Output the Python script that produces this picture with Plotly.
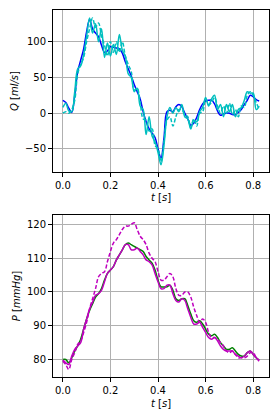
import plotly.graph_objects as go
from plotly.subplots import make_subplots

t = [0, .0125, .025, .0375, .05, .0625, .075, .0875, .1, .1125, .125, .1375, .15, .1625, .175, .1875,
     .2, .2125, .225, .2375, .25, .2625, .275, .2875, .3, .3125, .325, .3375, .35, .3625, .375, .3875,
     .4, .4125, .425, .4375, .45, .4625, .475, .4875, .5, .5125, .525, .5375, .55, .5625, .575, .5875,
     .6, .6125, .625, .6375, .65, .6625, .675, .6875, .7, .7125, .725, .7375, .75, .7625, .775, .7875,
     .8, .8125, .825]

q_ref = [18, 15, 7, 1, 25, 58, 74, 90, 114, 131, 118, 112, 107, 95, 85, 87,
         93, 92, 91, 90, 84, 72, 62, 52, 40, 30, 20, 2, -12, -22, -28, -34,
         -50, -63, -35, 2, 4, 2, 9, 12, 9, 0, -8, -17, -14, -6, 5, 13,
         17, 18, 18, 13, 3, -3, -1, 0, 0, -2, -2, 1, 5, 12, 18, 25,
         23, 19, 17]

q_a = [8, 14, 3, 2, 30, 62, 66, 82, 108, 133, 112, 125, 100, 118, 78, 98,
       80, 96, 82, 110, 88, 80, 55, 50, 30, 35, 10, 5, -30, -5, -32, -40,
       -55, -72, -45, -5, 8, 0, 8, 2, 12, -5, -8, -22, -10, -12, 2, 8,
       22, 10, 20, 25, 5, 12, -5, 12, 2, 12, -5, 5, 8, 18, 30, 28,
       28, 5, 10]

q_b = [0, 2, 0, 5, 18, 55, 68, 78, 100, 118, 133, 120, 126, 108, 95, 80,
       100, 85, 100, 85, 100, 80, 68, 58, 32, 35, 15, -8, -10, -25, -22, -45,
       -50, -68, -40, -10, -5, -18, -5, 5, 5, -2, -5, -20, -8, -18, 0, 2,
       20, 12, 15, 22, 10, 0, 10, 0, 14, -2, 5, -5, 10, 8, 25, 30,
       25, 15, 5]

p_ref = [80, 80, 79, 80.5, 82.5, 84, 86, 89, 92, 94.5, 96.5, 98.5, 99.5, 101, 103.5, 105.5,
         106.5, 107.5, 109.5, 111, 112.5, 114, 114.5, 114, 113.5, 113, 112.5, 112, 110.5, 109.5, 108.5, 106.5,
         103.5, 101.5, 101.5, 101.5, 102, 100.5, 98, 97.5, 98, 98, 96, 93.5, 91.5, 91, 91.5, 90.5,
         89, 87.5, 87, 87.5, 86.5, 85, 84, 83, 83, 83.5, 82.5, 81.5, 81, 81, 82, 82.5,
         81.5, 80.5, 79.8]

p_a = [79.8, 79, 78.5, 81, 83, 84, 85, 89, 92, 95, 97, 99, 99.5, 100.5, 103, 105.5,
       106.5, 107.5, 109.5, 111, 112.5, 114, 114, 112.5, 112.5, 113, 112, 111, 109.5, 109, 108, 105.5,
       103, 101, 101, 102, 102, 99.5, 97.5, 97, 98, 97.5, 95, 92.5, 90.5, 90.5, 91, 89.5,
       88, 86.5, 86, 86.5, 85.5, 84, 83, 82.5, 82.5, 82.5, 81.5, 81, 80.5, 81, 82, 82.5,
       81.5, 80.5, 79.8]

p_b = [79.5, 78.5, 77, 80, 82, 84.5, 85.5, 88, 91, 95, 98, 101, 104.5, 105.5, 106, 109,
       112, 114.5, 115.5, 117, 118.5, 119.5, 119.5, 120, 120.5, 118.5, 116.5, 115.5, 114, 111.5, 110, 109,
       106, 103.5, 103.5, 104.5, 105.5, 104.5, 101, 99, 99, 100, 100, 98.5, 95.5, 93, 91, 92,
       91, 88, 86.5, 86.5, 86, 85, 84, 82.5, 82, 82.5, 81.5, 80.5, 80.5, 80.5, 81, 82,
       82, 80.5, 79.5]

x_ticks = [0.0, 0.2, 0.4, 0.6, 0.8]
q_ticks = [-50, 0, 50, 100]
p_ticks = [80, 90, 100, 110, 120]

fig = make_subplots(rows=2, cols=1, vertical_spacing=0.1172)

lw = 1.5
fig.add_trace(go.Scatter(x=t, y=q_ref, mode="lines", line=dict(color="#0000ff", width=lw, shape="spline")), 1, 1)
fig.add_trace(go.Scatter(x=t, y=q_a, mode="lines", line=dict(color="#00bfbf", width=lw, shape="spline")), 1, 1)
fig.add_trace(go.Scatter(x=t, y=q_b, mode="lines", line=dict(color="#00bfbf", width=lw, shape="spline", dash="4px,2px")), 1, 1)
fig.add_trace(go.Scatter(x=t, y=p_ref, mode="lines", line=dict(color="#008000", width=lw, shape="spline")), 2, 1)
fig.add_trace(go.Scatter(x=t, y=p_a, mode="lines", line=dict(color="#bf00bf", width=lw, shape="spline")), 2, 1)
fig.add_trace(go.Scatter(x=t, y=p_b, mode="lines", line=dict(color="#bf00bf", width=lw, shape="spline", dash="4px,2px")), 2, 1)

font = dict(family="DejaVu Sans", size=10, color="black")
axis_common = dict(showline=True, linecolor="black", linewidth=1, mirror=True,
                   ticks="outside", ticklen=4, tickcolor="black", tickwidth=0.8,
                   showgrid=True, gridcolor="#b0b0b0", gridwidth=0.8, zeroline=False,
                   tickfont=font)

xr = [-0.0413, 0.8663]
for r in (1, 2):
    fig.update_xaxes(range=xr, tickvals=x_ticks, ticktext=["%.1f" % v for v in x_ticks],
                     title=dict(text="<i>t</i> [<i>s</i>]", font=font, standoff=4), row=r, col=1, **axis_common)
fig.update_yaxes(range=[-82.3, 144.3], tickvals=q_ticks, ticktext=["\u221250", "0", "50", "100"],
                 title=dict(text="<i>Q</i> [<i>ml/s</i>]", font=font, standoff=4), row=1, col=1, **axis_common)
fig.update_yaxes(range=[74.8, 122.8], tickvals=p_ticks, ticktext=[str(v) for v in p_ticks],
                 title=dict(text="<i>P</i> [<i>mmHg</i>]", font=font, standoff=4), row=2, col=1, **axis_common)

fig.update_layout(width=280, height=420, showlegend=False,
                  margin=dict(l=53, r=11, t=10, b=43, autoexpand=False),
                  plot_bgcolor="white", paper_bgcolor="white", font=font)
fig.layout.yaxis.domain = [0.5586, 1.0]
fig.layout.yaxis2.domain = [0.0, 0.4414]

fig.write_html("out.html", config={"displayModeBar": False},
               post_script="document.body.style.margin='0';document.body.style.padding='0';")
